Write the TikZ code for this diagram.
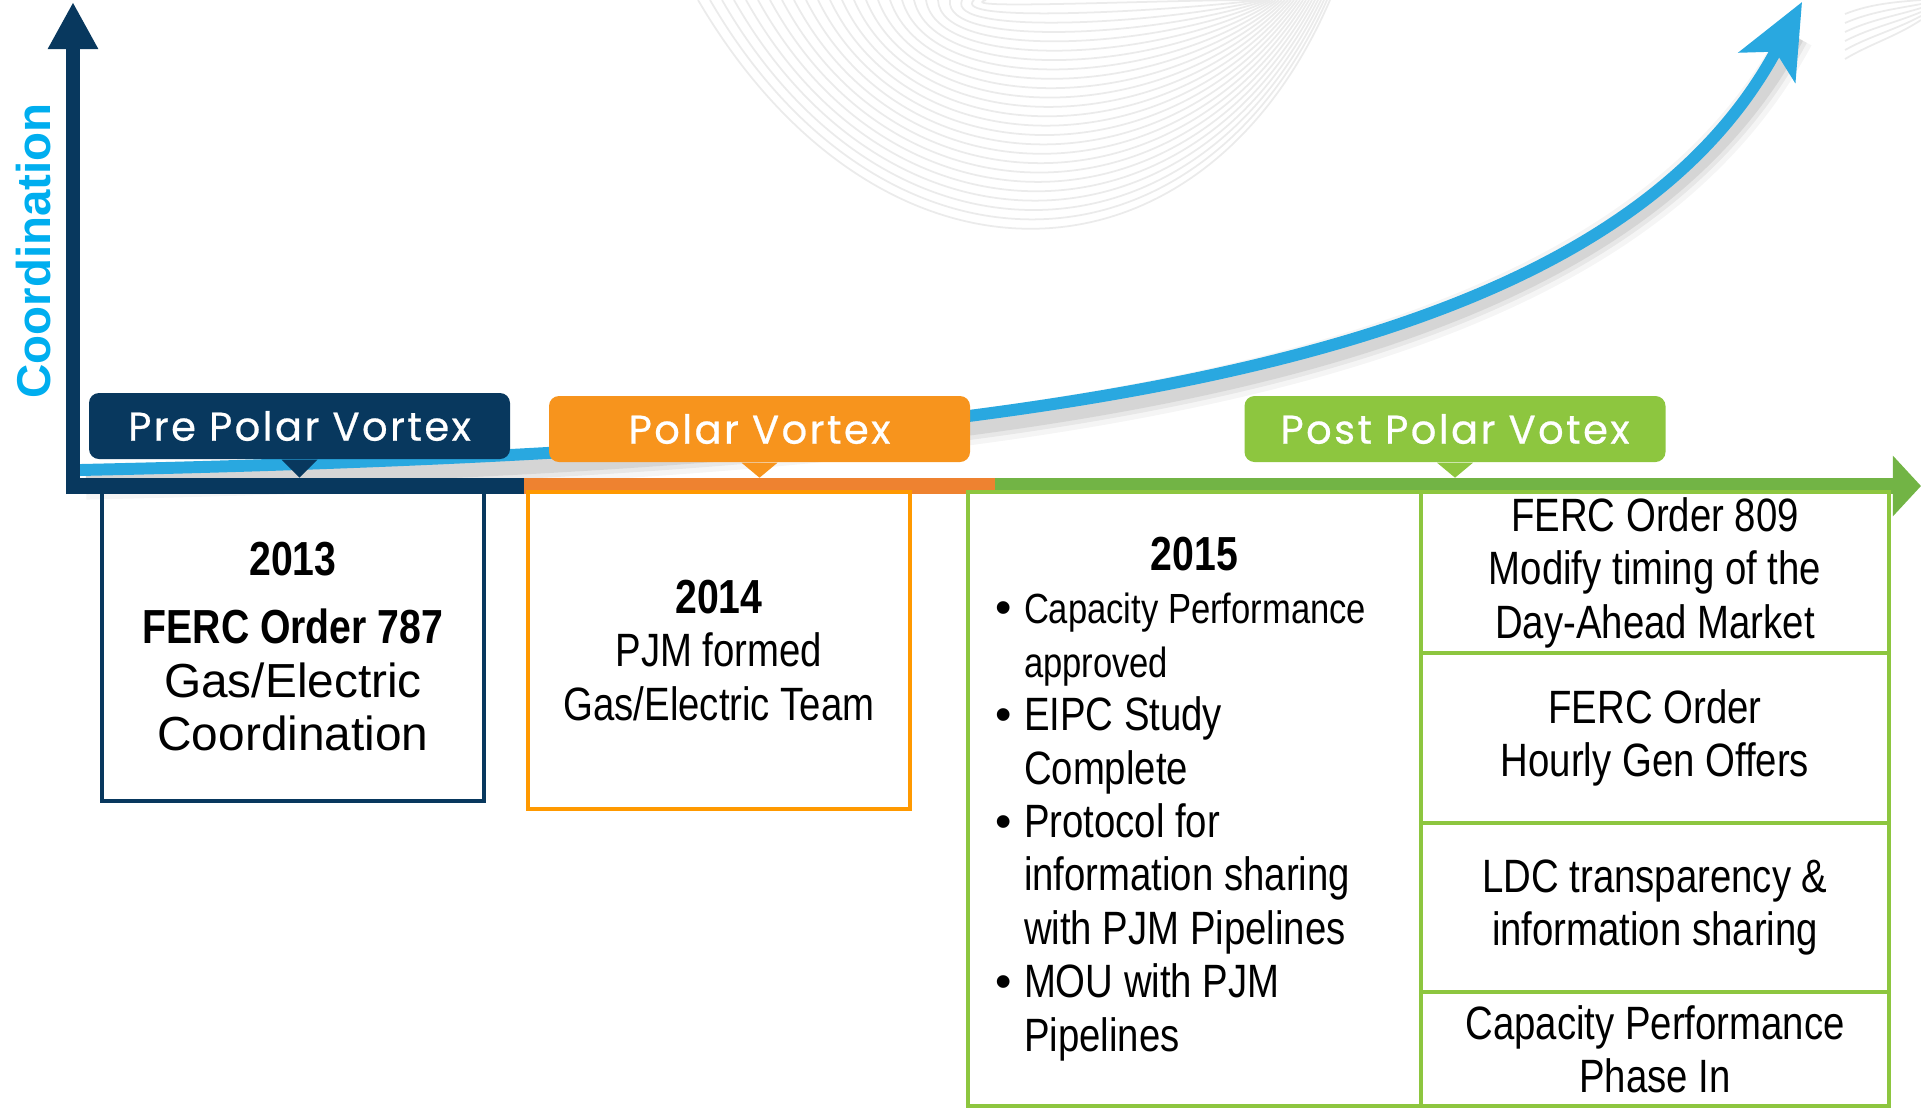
\documentclass[tikz,border=0pt]{standalone}
\usepackage{fontspec}
\setmainfont{Liberation Sans}
\newfontfamily\narrowfont[FakeStretch=0.82]{Liberation Sans}
\newfontfamily\tagfont[LetterSpace=6, FakeBold=0.6]{Poppins}
\usetikzlibrary{arrows.meta,positioning}

\definecolor{navy}{RGB}{8,56,94}
\definecolor{skyblue}{RGB}{0,174,239}
\definecolor{curveblue}{RGB}{41,168,224}
\definecolor{tagorange}{RGB}{247,148,29}
\definecolor{barorange}{RGB}{238,130,48}
\definecolor{boxorange}{RGB}{255,153,0}
\definecolor{taggreen}{RGB}{141,198,63}
\definecolor{bargreen}{RGB}{114,180,69}

\newcommand{\yearfont}{\narrowfont\bfseries\fontsize{13.6}{15.2}\selectfont}
\newcommand{\boxfont}{\narrowfont\fontsize{13.3}{15.2}\selectfont}
\newcommand{\widefont}{\rmfamily\fontsize{13.6}{15.2}\selectfont}
\newcommand{\smallfont}{\fontsize{12}{15.2}\selectfont}
\newcommand{\bul}{\makebox[2.9mm][l]{\rmfamily\textbullet}}
\newcommand{\ind}{\hspace*{2.9mm}}

\tikzset{
  period/.style={rounded corners=1mm, minimum width=42.1mm, minimum height=6.6mm,
    inner sep=0pt, text=white, font=\tagfont\fontsize{11.4}{13}\selectfont},
  eventbox/.style={line width=1.1pt, inner sep=0pt, align=center, font=\boxfont},
  bar/.style={line width=4.55pt},
  wave/.style={gray!16, line width=0.5pt},
  growth/.style={curveblue, line width=3.4pt, -{Stealth[length=21pt,width=18pt,inset=5pt]}}
}

\begin{document}
\begin{tikzpicture}[x=0.1mm, y=-0.1mm]
    \useasboundingbox (0,0) rectangle (1921,1110);

    \foreach \i in {0,...,24}
        \draw[wave] (698+12*\i,0) .. controls (880+3*\i,310-12.5*\i) and (1200-2*\i,300-12.5*\i) .. (1330-3*\i,0);
    \foreach \i in {0,...,5}
        \draw[wave] (1845,14+9*\i) .. controls (1870,4+8*\i) and (1895,2+7*\i) .. (1921,4*\i);

    % shadow, then the growth curve
    \begin{scope}[shift={(6,12)}]
        \foreach \w/\o in {10/0.04,7/0.06,4.5/0.08}
            \draw[black, opacity=\o, line width=\w pt] (80,470) .. controls (1000,450) and (1600,380) .. (1790,25);
    \end{scope}
    \draw[growth] (80,470) .. controls (1000,450) and (1600,380) .. (1802,2);

    \coordinate (origin) at (73,486);
    \coordinate (tA) at (524,486);
    \coordinate (tB) at (995,486);
    \coordinate (tEnd) at (1921,486);
    \coordinate (axisfoot) at (73,494);
    \coordinate (ytop) at (73,2);
    \draw[bar, navy] (origin) -- (tA);
    \draw[bar, barorange] (tA) -- (tB);
    \draw[bar, bargreen, -{Triangle[length=8pt,width=16.8pt]}] (tB) -- (tEnd);
    \draw[navy, line width=4pt, -{Triangle[length=13.4pt,width=13.4pt]}] (axisfoot) -- (ytop);

    \node[rotate=90, text=skyblue, font=\bfseries\fontsize{13.5}{16}\selectfont] (ylabel) at (34,251) {Coordination};

    \node[period, fill=navy] (pre) at (299.5,426) {Pre Polar Vortex};
    \fill[navy] ([xshift=-1.8mm]pre.south) -- ([yshift=-1.8mm]pre.south) -- ([xshift=1.8mm]pre.south) -- cycle;
    \node[period, fill=tagorange] (polar) at (759.5,429) {Polar Vortex};
    \fill[tagorange] ([xshift=-1.8mm]polar.south) -- ([yshift=-1.5mm]polar.south) -- ([xshift=1.8mm]polar.south) -- cycle;
    \node[period, fill=taggreen] (post) at (1455,429) {Post Polar Votex};
    \fill[taggreen] ([xshift=-1.8mm]post.south) -- ([yshift=-1.5mm]post.south) -- ([xshift=1.8mm]post.south) -- cycle;

    \node[eventbox, draw=navy, minimum width=38.2mm, minimum height=30.9mm] (y2013) at (293,646.5)
        {{\yearfont 2013}\\[4.3pt]{\yearfont FERC Order 787}\\{\widefont Gas/Electric}\\{\widefont Coordination}};
    \node[eventbox, draw=boxorange, minimum width=38.2mm, minimum height=31.7mm] (y2014) at (719,650.5)
        {{\yearfont 2014}\\PJM formed\\Gas/Electric Team};
    \node[eventbox, draw=taggreen, line width=1.3pt, minimum width=45.3mm, minimum height=61.4mm,
          align=left] (y2015) at (1194.5,799)
        {\makebox[39.9mm]{\yearfont 2015}\\
         \bul{\smallfont Capacity Performance}\\
         \ind{\smallfont approved}\\
         \bul EIPC Study\\
         \ind Complete\\
         \bul Protocol for\\
         \ind information sharing\\
         \ind with PJM Pipelines\\
         \bul MOU with PJM\\
         \ind Pipelines};

    \node[eventbox, draw=taggreen, line width=1.3pt, minimum width=46.8mm, minimum height=16.1mm] (order809) at (1655,572.5)
        {FERC Order 809\\Modify timing of the\\Day-Ahead Market};
    \node[eventbox, draw=taggreen, line width=1.3pt, minimum width=46.8mm, minimum height=17mm] (hourly) at (1655,738)
        {FERC Order\\Hourly Gen Offers};
    \node[eventbox, draw=taggreen, line width=1.3pt, minimum width=46.8mm, minimum height=16.9mm] (ldc) at (1655,907.5)
        {LDC transparency \&\\information sharing};
    \node[eventbox, draw=taggreen, line width=1.3pt, minimum width=46.8mm, minimum height=11.4mm] (phasein) at (1655,1049)
        {Capacity Performance\\Phase In};
\end{tikzpicture}
\end{document}
